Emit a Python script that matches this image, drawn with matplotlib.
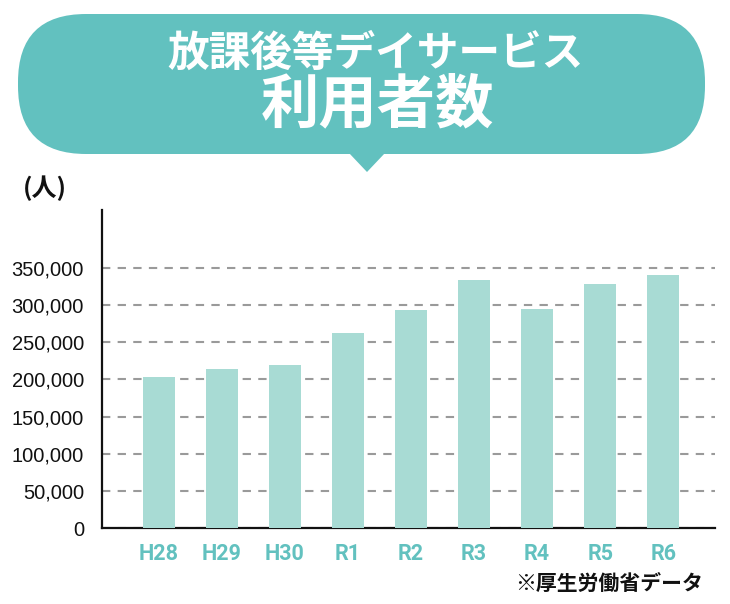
import matplotlib
matplotlib.use('Agg')
import matplotlib.pyplot as plt
from matplotlib.patches import FancyBboxPatch, Polygon
from matplotlib.ticker import FuncFormatter

# data
years = ['H28', 'H29', 'H30', 'R1', 'R2', 'R3', 'R4', 'R5', 'R6']
users = [203300, 214000, 219500, 262500, 293500, 333800, 294800, 328400, 340600]
yticks = [0, 50000, 100000, 150000, 200000, 250000, 300000, 350000]

title_1 = '放課後等デイサービス'
title_2 = '利用者数'
unit = '(人)'
source = '※厚生労働省データ'

teal = '#62c1bf'
bar_color = '#a8dbd4'
jp = ['Noto Sans CJK JP', 'DejaVu Sans']

fig = plt.figure(figsize=(7.30, 6.04), dpi=100)

# chart area
ax = fig.add_axes([102 / 730, 1 - 528 / 604, 613 / 730, 318 / 604])
x = range(len(years))
ax.bar(x, users, width=0.51, color=bar_color, zorder=3)
ax.set_xlim(-0.9, 8.82)
ax.set_ylim(0, 428000)
ax.set_yticks(yticks)
ax.yaxis.set_major_formatter(FuncFormatter(lambda v, p: f'{int(v):,}'))
ax.set_xticks(list(x))
ax.set_xticklabels(years, color=teal, fontweight='bold', fontsize=15.5,
                   family=['Roboto', 'DejaVu Sans'])
for lbl in ax.get_yticklabels():
    lbl.set_fontsize(14.5)
    lbl.set_family(['Liberation Sans', 'DejaVu Sans'])
    lbl.set_color('#111111')
ax.tick_params(axis='both', length=0)
ax.tick_params(axis='y', pad=13)
ax.tick_params(axis='x', pad=11)
ax.grid(axis='y', color='#9a9a9a', linestyle=(0, (4, 3.5)), linewidth=1.5, zorder=1)
for s in ['top', 'right']:
    ax.spines[s].set_visible(False)
for s in ['left', 'bottom']:
    ax.spines[s].set_linewidth(1.6)
    ax.spines[s].set_color('#111111')

# overlay in pixel coordinates for the speech bubble and notes
ov = fig.add_axes([0, 0, 1, 1], zorder=5)
ov.set_xlim(0, 730)
ov.set_ylim(604, 0)
ov.axis('off')
ov.patch.set_alpha(0)
ov.add_patch(FancyBboxPatch((18, 14), 687, 140,
                            boxstyle='round,pad=0,rounding_size=68',
                            facecolor=teal, edgecolor='none'))
ov.add_patch(Polygon([(349, 153), (385, 153), (367, 172)], closed=True,
                     facecolor=teal, edgecolor='none'))
ov.text(376, 54, title_1, color='white', fontsize=30, fontweight='bold',
        family=jp, ha='center', va='center')
ov.text(378, 105, title_2, color='white', fontsize=42, fontweight='bold',
        family=jp, ha='center', va='center')
ov.text(23, 188, unit, color='#111111', fontsize=18, fontweight='bold',
        family=jp, ha='left', va='center')
ov.text(703, 583, source, color='#111111', fontsize=15, fontweight='bold',
        family=jp, ha='right', va='center')

fig.savefig('out.png', dpi=100)
